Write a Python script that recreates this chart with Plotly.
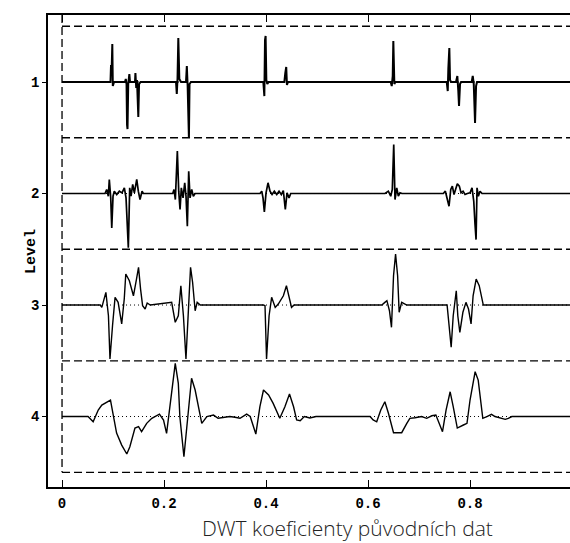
import plotly.graph_objects as go

# ---- data (x in data units, amplitude in level units, positive = up) ----
levels = [1, 2, 3, 4]
level_labels = ["1", "2", "3", "4"]
x_ticks = [0, 0.2, 0.4, 0.6, 0.8, 1]
x_tick_labels = ["0", "0.2", "0.4", "0.6", "0.8", "1"]
separators = [0.5, 1.5, 2.5, 3.5, 4.5]

l1_x = [0, 0.095, 0.096, 0.0975, 0.0986, 0.0996, 0.102, 0.1235, 0.125, 0.1265, 0.1275, 0.1284, 0.1298, 0.132, 0.1333,
        0.1431, 0.1439, 0.1455, 0.147, 0.1496, 0.151, 0.154, 0.2235, 0.225, 0.2265, 0.228, 0.230, 0.2333,
        0.2431, 0.2447, 0.2463, 0.2478, 0.2488, 0.25, 0.2529, 0.3947, 0.3967, 0.398, 0.3992, 0.4006, 0.4025, 0.4049,
        0.4359, 0.4378, 0.4396, 0.441, 0.4431, 0.6445, 0.6465, 0.6484, 0.6496, 0.6516, 0.6535,
        0.7543, 0.7563, 0.7575, 0.7594, 0.7608, 0.7627, 0.7725, 0.7751, 0.777, 0.7784, 0.7804, 0.7824,
        0.8033, 0.8053, 0.8073, 0.8088, 0.8098, 0.8118, 0.8137, 1.0]
l1_a = [0, 0, 0.143, 0.143, 0.341, -0.036, 0, 0, 0.027, -0.018, -0.386, -0.422, -0.018, 0.072, 0,
        0, 0.081, -0.054, 0.018, -0.314, -0.018, 0, 0, -0.108, 0.036, 0.395, 0.027, 0,
        0, 0.143, -0.036, -0.430, -0.502, -0.018, 0, 0, -0.126, 0.377, 0.413, 0.018, -0.018, 0,
        0, 0.081, 0.135, -0.027, 0, 0, -0.036, 0.054, 0.368, -0.018, 0,
        0, -0.081, 0.126, 0.305, 0.018, 0, 0, 0.054, -0.081, -0.215, -0.018, 0,
        0, 0.054, -0.018, -0.323, -0.368, -0.036, 0, 0]

l2_x = [0, 0.0843, 0.0876, 0.0908, 0.0927, 0.0955, 0.0975, 0.1, 0.1025, 0.1073, 0.1124, 0.1176, 0.1222, 0.1255,
        0.13, 0.1327, 0.1353, 0.1386, 0.1418, 0.1465, 0.1496, 0.1529, 0.1569, 0.1594,
        0.2171, 0.2196, 0.2222, 0.2261, 0.2288, 0.2314, 0.2339, 0.2373, 0.2406, 0.2431, 0.2457, 0.2484, 0.251,
        0.2543, 0.2575, 0.2608,
        0.3882, 0.3916, 0.3941, 0.3967, 0.4, 0.4039, 0.4078, 0.4118, 0.4163, 0.421, 0.4255, 0.43, 0.4339, 0.4378,
        0.4412, 0.4451, 0.4484,
        0.6333, 0.6398, 0.6445, 0.6476, 0.6504, 0.6529, 0.6563, 0.6594, 0.6627, 0.6667,
        0.7476, 0.7516, 0.7549, 0.7588, 0.7622, 0.7653, 0.7686, 0.772, 0.7751, 0.779, 0.7824, 0.7863, 0.7902,
        0.7947, 0.8, 0.8039, 0.8073, 0.8098, 0.8118, 0.8137, 0.8163, 0.8196, 0.8235, 1.0]
l2_a = [0, 0, 0.036, -0.024, 0.126, -0.039, -0.308, -0.024, 0.021, -0.009, 0.021, 0.006, 0.051, -0.039,
        -0.487, 0.051, -0.024, 0.081, 0.006, 0.126, 0.021, -0.054, 0.021, 0,
        0, 0.036, -0.054, 0.380, 0.021, -0.143, 0.051, -0.039, 0.096, -0.024, -0.293, 0.200, -0.039,
        0.036, -0.024, 0,
        0, 0.021, -0.039, -0.164, 0.006, 0.096, 0.021, -0.009, 0.021, -0.009, 0.021, -0.009, 0.027, -0.143,
        0.006, -0.039, 0,
        0, 0.021, -0.024, 0.036, 0.439, -0.054, 0.051, -0.024, 0.006, 0,
        0, 0.021, -0.054, -0.114, 0.036, 0.066, -0.009, 0.051, 0.087, 0.066, 0.006, 0.021, -0.009,
        0, 0.006, 0.051, -0.069, -0.278, -0.413, 0.051, -0.024, 0.021, 0, 0]

l3_x = [0, 0.075, 0.078, 0.081, 0.086, 0.091, 0.094, 0.099, 0.104, 0.110, 0.117, 0.122, 0.125, 0.132, 0.140,
        0.146, 0.150, 0.154, 0.158, 0.163, 0.167, 0.173,
        0.208, 0.215, 0.222, 0.228, 0.233, 0.238, 0.243, 0.247, 0.252, 0.256, 0.261, 0.265, 0.271,
        0.395, 0.398, 0.401, 0.406, 0.411, 0.418, 0.424, 0.434, 0.440, 0.447, 0.450, 0.455,
        0.627, 0.633, 0.637, 0.642, 0.646, 0.650, 0.654, 0.658, 0.661, 0.666, 0.671, 0.676,
        0.755, 0.759, 0.763, 0.767, 0.773, 0.776, 0.780, 0.786, 0.792, 0.797, 0.802, 0.806, 0.812, 0.818,
        0.826, 1.0]
l3_a = [0, 0, -0.021, 0.024, 0.114, -0.096, -0.484, -0.186, 0.069, 0.024, -0.170, 0.054, 0.278, 0.218, 0.083,
        0.233, 0.338, 0.143, -0.006, -0.036, 0.018, 0,
        0.018, 0.024, -0.155, -0.096, 0.173, -0.096, -0.484, -0.096, 0.338, 0.204, -0.051, 0.024, 0,
        0, -0.006, -0.484, -0.096, 0.069, -0.021, 0.009, 0.083, 0.173, 0.054, -0.021, 0,
        0, 0.024, 0.039, -0.051, -0.200, 0.263, 0.457, 0.263, -0.065, 0.024, 0.015, 0,
        0, -0.186, -0.379, -0.096, 0.128, -0.096, -0.245, -0.065, 0.024, -0.036, -0.170, 0.083, 0.233, 0.173,
        0, 0]

l4_x = [0, 0.051, 0.061, 0.071, 0.078, 0.088, 0.095, 0.101, 0.107, 0.117, 0.127, 0.133, 0.143, 0.150, 0.156,
        0.166, 0.176, 0.191, 0.199, 0.205, 0.212, 0.222, 0.228, 0.231, 0.239, 0.246, 0.254, 0.261, 0.267,
        0.274, 0.284, 0.297, 0.306, 0.316, 0.329, 0.339, 0.349, 0.362, 0.369, 0.380, 0.388, 0.395, 0.405,
        0.414, 0.427, 0.437, 0.446, 0.454, 0.460, 0.467, 0.475, 0.486, 0.498,
        0.604, 0.610, 0.617, 0.625, 0.633, 0.640, 0.650, 0.666, 0.676, 0.682, 0.692, 0.705, 0.715, 0.725,
        0.733, 0.741, 0.746, 0.753, 0.761, 0.767, 0.775, 0.787, 0.794, 0.800, 0.810, 0.816, 0.825, 0.833,
        0.842, 0.849, 0.859, 0.869, 0.875, 0.882, 1.0]
l4_a = [0, 0, -0.047, 0.058, 0.103, 0.133, 0.148, 0.0, -0.148, -0.256, -0.336, -0.271, -0.103, -0.091, -0.136,
        -0.061, -0.016, 0.022, -0.031, -0.151, 0.088, 0.477, 0.298, 0, -0.361, -0.061, 0.343, 0.238, 0.088,
        -0.061, 0, 0.013, -0.016, -0.007, 0, -0.007, -0.016, 0.022, 0, -0.157, 0.088, 0.238, 0.193,
        0.118, -0.016, 0.088, 0.202, 0.088, -0.031, -0.037, 0, -0.013, 0,
        0, -0.031, -0.047, 0.058, 0.133, 0.029, -0.145, -0.145, -0.061, -0.016, -0.011, 0, -0.016, 0.007,
        0.013, -0.091, -0.136, 0.058, 0.222, 0.088, -0.103, -0.076, -0.061, 0.148, 0.402, 0.327, -0.016, 0,
        0.020, 0, -0.016, -0.025, -0.016, 0, 0]

series = [(1, l1_x, l1_a), (2, l2_x, l2_a), (3, l3_x, l3_a), (4, l4_x, l4_a)]
line_widths = {1: 2.0, 2: 1.7, 3: 1.4, 4: 1.4}

fig = go.Figure()

# dotted baselines
for lv in levels:
    fig.add_trace(go.Scatter(x=[0, 1.0], y=[lv, lv], mode="lines",
                             line=dict(color="black", width=1, dash="1px,3px"),
                             hoverinfo="skip", showlegend=False))

# coefficient signals
for lv, xs, amps in series:
    fig.add_trace(go.Scatter(x=xs, y=[lv - a for a in amps], mode="lines",
                             line=dict(color="black", width=line_widths[lv]),
                             showlegend=False))

# dashed separators
for s in separators:
    fig.add_shape(type="line", xref="x", yref="y", x0=0, x1=1.0, y0=s, y1=s,
                  line=dict(color="black", width=1.3, dash="8px,4px"), layer="below")
fig.add_shape(type="line", xref="x", yref="y", x0=0, x1=0, y0=0.4, y1=4.5,
              line=dict(color="black", width=1.3, dash="8px,4px"), layer="below")

mono = "Liberation Mono"
fig.update_layout(
    width=570, height=543,
    margin=dict(l=48, r=0, t=15, b=56),
    plot_bgcolor="white", paper_bgcolor="white",
    xaxis=dict(range=[-0.0275, 0.996], tickvals=x_ticks, ticktext=x_tick_labels,
               ticks="inside", ticklen=7, tickwidth=1.3, tickcolor="black",
               showline=True, linecolor="black", linewidth=1.5, mirror="ticks",
               showgrid=False, zeroline=False, automargin=False, ticklabelstandoff=2,
               tickfont=dict(family=mono, size=14, color="black", weight="bold")),
    yaxis=dict(range=[4.632, 0.399], tickvals=levels, ticktext=level_labels,
               ticks="outside", ticklen=4, tickwidth=1.3, tickcolor="black",
               showline=True, linecolor="black", linewidth=1.5, mirror=False,
               showgrid=False, zeroline=False, automargin=False,
               tickfont=dict(family=mono, size=14, color="black", weight="bold")),
    annotations=[
        dict(text="DWT koeficienty původních dat", xref="paper", yref="paper",
             x=0.573, y=-0.086, xanchor="center", yanchor="middle", showarrow=False,
             font=dict(family="Open Sans", size=21, color="#222222", weight=300)),
        dict(text="Level", xref="paper", yref="paper", x=-0.0326, y=0.5,
             xanchor="center", yanchor="middle", textangle=-90, showarrow=False,
             font=dict(family=mono, size=15, color="black", weight="bold")),
    ],
)

fig.write_html("out.html", config={"displayModeBar": False},
               post_script="document.body.style.margin='0px';")
